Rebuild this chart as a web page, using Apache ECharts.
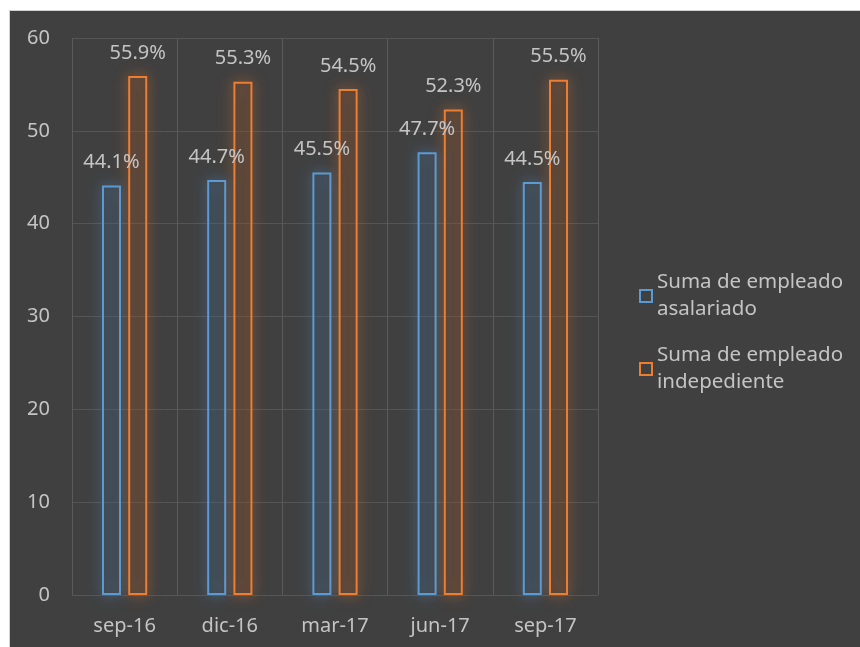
<!DOCTYPE html>
<html><head><meta charset="utf-8">
<script src="https://cdn.jsdelivr.net/npm/echarts@6/dist/echarts.min.js"></script>
<style>
html,body{margin:0;padding:0;background:#ffffff;width:860px;height:647px;overflow:hidden}
#c{position:absolute;left:9px;top:10px;width:851px;height:637px;background:#404040;border-left:1px solid #d0d0d0;border-top:1px solid #d0d0d0;box-sizing:border-box}
</style></head>
<body><div id="c"></div>
<script>
const categories = ['sep-16','dic-16','mar-17','jun-17','sep-17'];
const asalariado = [44.1, 44.7, 45.5, 47.7, 44.5];
const independiente = [55.9, 55.3, 54.5, 52.3, 55.5];
const seriesNames = ['Suma de empleado asalariado', 'Suma de empleado independiente'];
const legendLabels = ['Suma de empleado\nasalariado', 'Suma de empleado\nindepediente'];

const font = 'Noto Sans';
const txt = '#c4c4c4';
const chart = echarts.init(document.getElementById('c'));
function barSeries(name, data, col, glow, fill) {
  return {
    name: name, type: 'bar', data: data, barWidth: 19, barGap: '38%',
    itemStyle: { color: fill, borderColor: col, borderWidth: 2, shadowBlur: 14, shadowColor: glow },
    label: { show: true, position: 'top', distance: 13, color: txt, fontSize: 20, fontFamily: font,
      formatter: p => p.value.toFixed(1) + '%' }
  };
}
chart.setOption({
  backgroundColor: '#404040',
  animation: false,
  grid: { left: 62, top: 27, width: 526, bottom: 52 },
  xAxis: {
    type: 'category', data: categories,
    axisLine: { show: false }, axisTick: { show: false },
    splitLine: { show: true, lineStyle: { color: '#5a5a5a', width: 1 } },
    axisLabel: { color: txt, fontSize: 20, fontFamily: font, margin: 21 }
  },
  yAxis: {
    type: 'value', min: 0, max: 60, interval: 10,
    axisLine: { show: false }, axisTick: { show: false },
    splitLine: { lineStyle: { color: '#555555', width: 1 } },
    axisLabel: { color: txt, fontSize: 20, fontFamily: font, margin: 22 }
  },
  legend: {
    orient: 'vertical', left: 624, top: 253, itemGap: 19,
    itemWidth: 12, itemHeight: 12, itemStyle: { borderWidth: 2 }, icon: 'rect',
    textStyle: { color: txt, fontSize: 20.5, fontFamily: font, lineHeight: 27 },
    formatter: n => legendLabels[seriesNames.indexOf(n)],
    data: [
      { name: seriesNames[0], itemStyle: { color: 'transparent', borderColor: '#5B9BD5', borderWidth: 2, shadowBlur: 0 } },
      { name: seriesNames[1], itemStyle: { color: 'transparent', borderColor: '#ED7D31', borderWidth: 2, shadowBlur: 0 } }
    ]
  },
  series: [
    barSeries(seriesNames[0], asalariado, '#5B9BD5', 'rgba(91,155,213,0.85)', 'rgba(50,55,60,0.15)'),
    barSeries(seriesNames[1], independiente, '#ED7D31', 'rgba(237,125,49,0.85)', 'rgba(60,50,45,0.15)')
  ]
});
</script></body></html>
